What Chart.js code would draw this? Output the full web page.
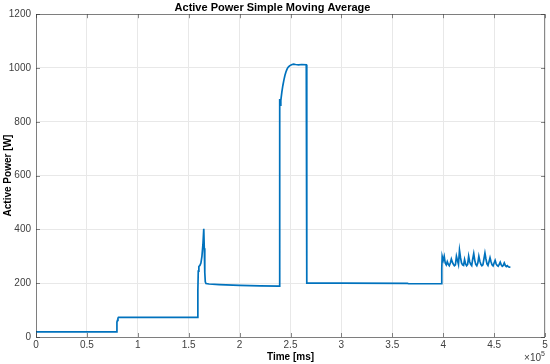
<!DOCTYPE html>
<html>
<head>
<meta charset="utf-8">
<script src="https://cdn.jsdelivr.net/npm/chart.js@4/dist/chart.umd.min.js"></script>
<style>
html,body{margin:0;padding:0;background:#fff;}
#wrap{width:550px;height:364px;position:relative;}
</style>
</head>
<body>
<div id="wrap"><canvas id="c" width="550" height="364"></canvas></div>
<script>
// Time [ms]
const timeMs = [
  0, 79400, 79500, 80000, 80500, 81000, 158800,
  159000, 159400, 160000, 161000, 162000, 163000, 164000, 164800, 165300, 165800, 166300, 167000, 170000, 180000, 200000, 220000, 238800,
  239200, 239400, 239600, 239900, 240500, 241500, 242500, 243500, 244500, 245500, 246500, 247500, 249000, 251000, 253000, 255000, 258000, 261000, 265500,
  265800, 266200, 300000, 365000, 366000, 398200,
  398600, 399000, 400000, 401000, 402000, 403000, 404000, 405000, 406000, 407000, 408000, 409000, 410000, 411000, 412000, 413000, 414000,
  415000, 416000, 417000, 418000, 419000, 420000, 421000, 422000, 423000, 424000, 425000, 426000, 427000, 428000, 429000, 430000, 431000,
  432000, 433000, 434000, 435000, 436000, 437000, 438000, 439000, 440000, 441000, 442000, 443000, 444000, 445000, 446000, 447000, 448000,
  449000, 450000, 451000, 452000, 453000, 454000, 455000, 456000, 457000, 458000, 459000, 460000, 461000, 462000, 463000, 464000, 465000, 466000
];
// Active Power [W]
const powerW = [
  19, 19, 55, 62, 70, 73, 73,
  175, 245, 262, 266, 275, 300, 345, 402, 330, 240, 205, 199, 197, 195, 192, 190, 189,
  700, 885, 870, 862, 880, 910, 935, 955, 972, 985, 995, 1002, 1008, 1012, 1014, 1013, 1012, 1013, 1012,
  600, 200, 200, 199, 198, 198,
  255, 300, 285, 300, 275, 268, 280, 270, 265, 275, 290, 278, 270, 265, 268, 300, 285,
  270, 322, 295, 275, 268, 266, 288, 272, 265, 270, 300, 280, 270, 265, 290, 310, 285,
  270, 265, 275, 300, 282, 270, 265, 268, 290, 312, 290, 272, 266, 280, 295, 280, 268,
  264, 275, 285, 272, 266, 263, 270, 278, 268, 263, 266, 275, 266, 262, 265, 261, 260, 260
];
const xTicks = [0, 50000, 100000, 150000, 200000, 250000, 300000, 350000, 400000, 450000, 500000];
const yTicks = [0, 200, 400, 600, 800, 1000, 1200];

const points = timeMs.map((t, i) => ({x: t, y: powerW[i]}));
const FONT = "'Liberation Sans', Arial, Helvetica, sans-serif";

const boxPlugin = {
  id: 'box',
  afterDraw(chart) {
    const {ctx, chartArea: a, scales} = chart;
    ctx.save();
    ctx.strokeStyle = '#262626';
    ctx.lineWidth = 1;
    ctx.globalAlpha = 0.55;
    ctx.strokeRect(Math.round(a.left) + 0.5, Math.round(a.top) + 0.5, Math.round(a.right - a.left) - 1, Math.round(a.bottom - a.top));
    const tl = 4;
    ctx.beginPath();
    xTicks.forEach(v => {
      const px = Math.round(scales.x.getPixelForValue(v)) + 0.5;
      ctx.moveTo(px, a.bottom); ctx.lineTo(px, a.bottom - tl);
      ctx.moveTo(px, a.top); ctx.lineTo(px, a.top + tl);
    });
    yTicks.forEach(v => {
      const py = Math.round(scales.y.getPixelForValue(v)) + 0.5;
      ctx.moveTo(a.left, py); ctx.lineTo(a.left + tl, py);
      ctx.moveTo(a.right, py); ctx.lineTo(a.right - tl, py);
    });
    ctx.stroke();
    ctx.globalAlpha = 1;
    ctx.fillStyle = '#404040';
    ctx.font = "10px " + FONT;
    ctx.textAlign = 'right';
    ctx.textBaseline = 'alphabetic';
    ctx.fillText('\u00d710', a.right - 4, 361);
    ctx.font = "7px " + FONT;
    ctx.textAlign = 'left';
    ctx.fillText('5', a.right - 4, 356);
    ctx.restore();
  }
};

new Chart(document.getElementById('c'), {
  type: 'line',
  data: {
    datasets: [{
      data: points,
      borderColor: '#0072BD',
      borderWidth: 1.7,
      pointRadius: 0,
      tension: 0,
      fill: false
    }]
  },
  options: {
    responsive: false,
    animation: false,
    devicePixelRatio: 1,
    layout: {padding: {top: 0, right: 5, bottom: 0, left: 0}},
    plugins: {
      legend: {display: false},
      tooltip: {enabled: false},
      title: {
        display: true,
        text: 'Active Power Simple Moving Average',
        color: '#000',
        font: {family: FONT, size: 11, weight: 'bold'},
        padding: {top: 1, bottom: 0}
      }
    },
    scales: {
      x: {
        type: 'linear',
        min: 0, max: 500000,
        afterBuildTicks: s => { s.ticks = xTicks.map(v => ({value: v})); },
        afterFit: s => { s.height = 27; },
        grid: {color: '#e8e8e8', drawTicks: false, lineWidth: 1},
        border: {display: false},
        ticks: {
          color: '#404040',
          font: {family: FONT, size: 10},
          padding: 2,
          maxRotation: 0,
          autoSkip: false,
          callback: v => String(v / 100000)
        },
        title: {
          display: true,
          text: 'Time [ms]',
          color: '#000',
          font: {family: FONT, size: 10, weight: 'bold'},
          padding: {top: 0, bottom: 1}
        }
      },
      y: {
        type: 'linear',
        min: 0, max: 1200,
        afterBuildTicks: s => { s.ticks = yTicks.map(v => ({value: v})); },
        afterFit: s => { s.width = 36; },
        grid: {color: '#e8e8e8', drawTicks: false, lineWidth: 1},
        border: {display: false},
        ticks: {
          color: '#404040',
          font: {family: FONT, size: 10},
          padding: 5,
          autoSkip: false,
          callback: v => String(v)
        },
        title: {
          display: true,
          text: 'Active Power [W]',
          color: '#000',
          font: {family: FONT, size: 10, weight: 'bold'},
          padding: {top: 2, bottom: 0}
        }
      }
    }
  },
  plugins: [boxPlugin]
});
</script>
</body>
</html>
